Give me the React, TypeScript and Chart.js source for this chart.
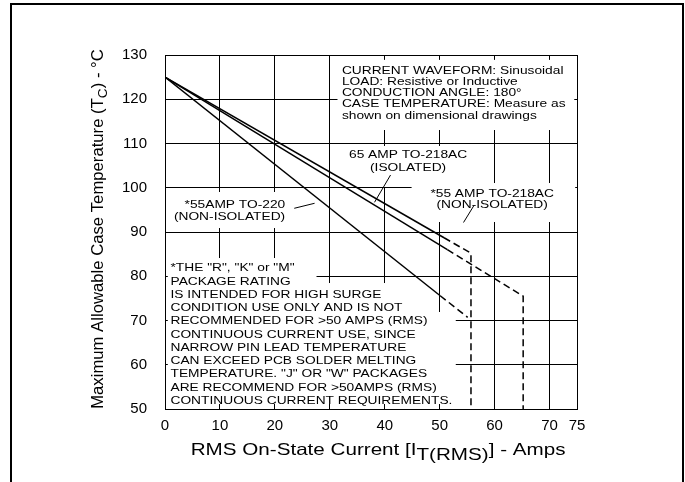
import React, { useEffect, useRef } from "react";
import { Chart, registerables } from "chart.js";

Chart.register(...registerables);

// ---------- data ----------
const xTickValues = [0, 10, 20, 30, 40, 50, 60, 70, 75];
const yTickValues = [50, 60, 70, 80, 90, 100, 110, 120, 130];

// *55 AMP TO-218AC (NON-ISOLATED)
const to218NonIsoX = [0, 50.8, 55.7, 55.7];
const to218NonIsoY = [125, 88.7, 85.2, 50];
// 65 AMP TO-218AC (ISOLATED)
const to218IsoX = [0, 51.4, 65.2, 65.2];
const to218IsoY = [125, 86.0, 75.5, 50];
// *55AMP TO-220 (NON-ISOLATED)
const to220X = [0, 50.1, 55.1];
const to220Y = [125, 75.6, 70.7];

const conditionLines = [
  "CURRENT WAVEFORM: Sinusoidal",
  "LOAD: Resistive or Inductive",
  "CONDUCTION ANGLE: 180\u00B0",
  "CASE TEMPERATURE: Measure as",
  "shown on dimensional drawings",
];
const label65Iso = ["65 AMP TO-218AC", "(ISOLATED)"];
const label55Iso218 = ["*55 AMP TO-218AC", "(NON-ISOLATED)"];
const label55To220 = ["*55AMP TO-220", "(NON-ISOLATED)"];
const noteLines = [
  '*THE "R", "K" or "M"',
  "PACKAGE RATING",
  "IS INTENDED FOR HIGH SURGE",
  "CONDITION USE ONLY AND IS NOT",
  "RECOMMENDED FOR >50 AMPS (RMS)",
  "CONTINUOUS CURRENT USE, SINCE",
  "NARROW PIN LEAD TEMPERATURE",
  "CAN EXCEED PCB SOLDER MELTING",
  'TEMPERATURE. "J" OR "W" PACKAGES',
  "ARE RECOMMEND FOR >50AMPS (RMS)",
  "CONTINUOUS CURRENT REQUIREMENTS.",
];

// ---------- layout / style ----------
const FONT = "'Liberation Sans', Arial, Helvetica, sans-serif";
const SX = 1.25; // horizontal stretch of the reference lettering
const ANN_SIZE = 11;

type Block = {
  lines: string[];
  x: number;
  y: number;
  align: CanvasTextAlign;
  lh: number;
};

const blocks: Block[] = [
  { lines: conditionLines, x: 32.2, y: 125.8, align: "left", lh: 11.3 },
  { lines: label65Iso, x: 44.25, y: 106.65, align: "center", lh: 12.4 },
  { lines: label55Iso218, x: 59.56, y: 97.98, align: "center", lh: 11.6 },
  { lines: label55To220, x: 21.88, y: 95.49, align: "right", lh: 12.3 },
  { lines: noteLines, x: 1.0, y: 81.12, align: "left", lh: 13.27 },
];

// white boxes behind the lettering (data units: x1, x2, yTop, yBottom)
const masks = [
  [31.4, 74.5, 128.9, 113.05],
  [32.84, 55.67, 109.44, 100.17],
  [44.89, 74.67, 101.07, 92.26],
  [0.51, 22.79, 99.04, 90.9],
  [0.51, 27.58, 84.12, 78.47],
  [0.51, 47.45, 78.47, 71.92],
  [0.51, 52.93, 71.92, 51.13],
];

// leader lines (data units)
const leaders = [
  [41.06, 102.88, 38.14, 96.71],
  [56.27, 96.05, 54.34, 92.15],
  [23.53, 95.36, 27.23, 96.49],
];

function pts(xs: number[], ys: number[]) {
  return xs.map((x, i) => ({ x, y: ys[i] }));
}

function stretchedText(
  ctx: CanvasRenderingContext2D,
  s: string,
  x: number,
  y: number,
  align: CanvasTextAlign,
  sx: number
) {
  ctx.save();
  ctx.translate(x, y);
  ctx.scale(sx, 1);
  ctx.textAlign = align;
  ctx.textBaseline = "alphabetic";
  ctx.fillText(s, 0, 0);
  ctx.restore();
}

const annotationPlugin = {
  id: "annotations",
  beforeDraw(chart: any) {
    const ctx: CanvasRenderingContext2D = chart.ctx;
    ctx.save();
    ctx.fillStyle = "#fff";
    ctx.fillRect(0, 0, chart.width, chart.height);
    ctx.strokeStyle = "#000";
    ctx.lineWidth = 2;
    ctx.beginPath();
    ctx.moveTo(11, 490);
    ctx.lineTo(11, 4);
    ctx.lineTo(683, 4);
    ctx.lineTo(683, 490);
    ctx.stroke();
    ctx.restore();
  },
  beforeDatasetsDraw(chart: any) {
    const ctx: CanvasRenderingContext2D = chart.ctx;
    const xs = chart.scales.x;
    const ys = chart.scales.y;
    ctx.save();
    ctx.fillStyle = "#fff";
    for (const [x1, x2, yt, yb] of masks) {
      const px1 = xs.getPixelForValue(x1);
      const px2 = xs.getPixelForValue(x2);
      const py1 = ys.getPixelForValue(yt);
      const py2 = ys.getPixelForValue(yb);
      ctx.fillRect(px1, py1, px2 - px1, py2 - py1);
    }
    ctx.fillStyle = "#000";
    ctx.font = `${ANN_SIZE}px ${FONT}`;
    for (const b of blocks) {
      const px = xs.getPixelForValue(b.x);
      const py = ys.getPixelForValue(b.y);
      b.lines.forEach((s, i) => stretchedText(ctx, s, px, py + i * b.lh, b.align, SX));
    }
    ctx.strokeStyle = "#000";
    ctx.lineWidth = 1;
    for (const [x1, y1, x2, y2] of leaders) {
      ctx.beginPath();
      ctx.moveTo(xs.getPixelForValue(x1), ys.getPixelForValue(y1));
      ctx.lineTo(xs.getPixelForValue(x2), ys.getPixelForValue(y2));
      ctx.stroke();
    }
    ctx.restore();
  },
  afterDraw(chart: any) {
    const ctx: CanvasRenderingContext2D = chart.ctx;
    ctx.save();
    ctx.fillStyle = "#000";
    // x axis title with subscript
    const xs = 16.5;
    ctx.font = `${xs}px ${FONT}`;
    const parts: [string, number][] = [
      ["RMS On-State Current [I", 0],
      ["T(RMS)", 4.5],
      ["] - Amps", 0],
    ];
    let x = 190.7;
    const base = 455;
    for (const [s, dy] of parts) {
      stretchedText(ctx, s, x, base + dy, "left", SX);
      x += ctx.measureText(s).width * SX;
    }
    // y axis title, rotated, with subscript
    const ySize = 16.7;
    const mainFont = `${ySize}px ${FONT}`;
    const subFont = `${ySize * 0.82}px ${FONT}`;
    const ypieces: [string, string, number][] = [
      ["Maximum Allowable Case Temperature (T", mainFont, 0],
      ["C", subFont, 4.5],
      [") - \u00B0C", mainFont, 0],
    ];
    let total = 0;
    for (const [s, f] of ypieces) {
      ctx.font = f;
      total += ctx.measureText(s).width;
    }
    ctx.translate(102.7, 229);
    ctx.rotate(-Math.PI / 2);
    let lx = -total / 2;
    for (const [s, f, dy] of ypieces) {
      ctx.font = f;
      ctx.textAlign = "left";
      ctx.textBaseline = "alphabetic";
      ctx.fillText(s, lx, dy);
      lx += ctx.measureText(s).width;
    }
    ctx.restore();
  },
};

const DASH = [7, 4];
// first segment solid, the rest dashed
const dashAfterFirst = (c: any) => (c.p0DataIndex >= 1 ? DASH : []);

export default function App() {
  const ref = useRef<HTMLCanvasElement>(null);
  useEffect(() => {
    const lineDs = (label: string, data: { x: number; y: number }[]) => ({
      label,
      data,
      borderColor: "#000",
      borderWidth: 1.5,
      borderDash: DASH,
      pointRadius: 0,
      fill: false,
      tension: 0,
      segment: { borderDash: dashAfterFirst },
    });
    const tickFont = { family: FONT, size: 15 };
    const chart = new Chart(ref.current as HTMLCanvasElement, {
      type: "line",
      data: {
        datasets: [
          lineDs("*55 AMP TO-218AC (NON-ISOLATED)", pts(to218NonIsoX, to218NonIsoY)),
          lineDs("65 AMP TO-218AC (ISOLATED)", pts(to218IsoX, to218IsoY)),
          lineDs("*55AMP TO-220 (NON-ISOLATED)", pts(to220X, to220Y)),
        ],
      },
      options: {
        animation: false,
        responsive: false,
        devicePixelRatio: 1,
        layout: { padding: { left: 85, right: 108, top: 55, bottom: 33 } },
        plugins: {
          legend: { display: false },
          tooltip: { enabled: false },
          title: { display: false },
        },
        scales: {
          x: {
            type: "linear",
            min: 0,
            max: 75,
            afterBuildTicks: (s: any) => {
              s.ticks = xTickValues.map((v) => ({ value: v }));
            },
            afterFit: (s: any) => {
              s.height = 40;
            },
            grid: { color: "#000", lineWidth: 1, drawTicks: false },
            border: { color: "#000", width: 1 },
            ticks: {
              color: "#000",
              font: tickFont,
              padding: 8,
              maxRotation: 0,
              autoSkip: false,
            },
          },
          y: {
            type: "linear",
            min: 50,
            max: 130,
            afterBuildTicks: (s: any) => {
              s.ticks = yTickValues.map((v) => ({ value: v }));
            },
            afterFit: (s: any) => {
              s.width = 80;
            },
            grid: { color: "#000", lineWidth: 1, drawTicks: false },
            border: { color: "#000", width: 1 },
            ticks: { color: "#000", font: tickFont, padding: 18, autoSkip: false },
          },
        },
      },
      plugins: [annotationPlugin],
    } as any);
    return () => chart.destroy();
  }, []);
  return (
    <div
      style={{
        position: "fixed",
        left: 0,
        top: 0,
        width: 685,
        height: 482,
        background: "#fff",
      }}
    >
      <canvas ref={ref} width={685} height={482} style={{ display: "block", width: 685, height: 482 }} />
    </div>
  );
}
